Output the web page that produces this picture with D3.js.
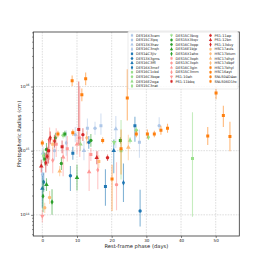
<!DOCTYPE html>
<html lang="en">
<head>
<meta charset="UTF-8">
<title>Photospheric radius vs phase</title>
<script src="https://d3js.org/d3.v7.min.js"></script>
<style>
  body { margin: 0; background: #fff; }
  text { font-family: "DejaVu Sans", sans-serif; fill: #222; }
</style>
</head>
<body>
<svg></svg>
<script>

// legend order (3 columns, filled column by column)
var sourceNames = [
    "DES16X3cem", "DES15C3lpq", "DES13X3hav", "DES16C3nqh",
    "DES14C3jiv", "DES13X3gms", "DES16C3ffl", "DES16X3mxf",
    "DES16C1cbd", "DES16C3bqw", "DES16E2oga", "DES15C3nat",
    "DES15C3bvg", "DES15X3kqv", "DES16C3opp", "DES16E1bjp",
    "DES16X1eho", "DES15C3oph", "DES13C3xph", "DES16C3gin",
    "DES15C3mrn", "PS1-10ah", "PS1-11bbq",
    "PS1-11ap", "PS1-12bn", "PS1-13duy",
    "HSC17auls", "HSC17btum", "HSC17dhyt", "HSC17dbpf",
    "HSC17bhyl", "HSC16ayt", "SNLS04D4ec", "SNLS06D1hc"
];

// [source, rest-frame phase (days), log10 radius (cm), err down (dex), err up (dex)]
var desObs = [
    ["DES16X3cem", 28.0, 15.13, 0.24, 0.20],
    ["DES16X3cem", 16.9, 15.39, 0.14, 0.19],
    ["DES16X3cem", 13.0, 15.35, 0.10, 0.15],
    ["DES15C3lpq", 33.7, 15.39, 0.06, 0.13],
    ["DES15C3lpq", 15.2, 15.35, 0.10, 0.10],
    ["DES15C3lpq", 3.5, 15.00, 0.15, 0.15],
    ["DES15C3lpq", 9.5, 15.25, 0.12, 0.12],
    ["DES13X3hav", 21.2, 15.34, 0.30, 0.20],
    ["DES13X3hav", 0.2, 14.96, 0.10, 0.10],
    ["DES13X3hav", 12.0, 15.00, 0.15, 0.15],
    ["DES16C3nqh", 6.9, 15.12, 0.20, 0.20],
    ["DES16C3nqh", 0.0, 14.63, 0.10, 0.10],
    ["DES14C3jiv", 26.7, 15.39, 0.25, 0.14],
    ["DES14C3jiv", 18.2, 14.44, 0.30, 0.27],
    ["DES14C3jiv", 8.8, 14.96, 0.10, 0.10],
    ["DES13X3gms", 28.2, 14.06, 0.24, 0.33],
    ["DES13X3gms", 8.1, 14.61, 0.24, 0.15],
    ["DES13X3gms", 13.4, 15.13, 0.10, 0.10],
    ["DES16C3ffl", 20.6, 15.00, 0.35, 0.17],
    ["DES16C3ffl", 0.0, 14.41, 0.30, 0.20],
    ["DES16X3mxf", 23.4, 14.50, 0.30, 0.30],
    ["DES16X3mxf", 0.4, 14.51, 0.15, 0.15],
    ["DES16C1cbd", 43.3, 14.88, 0.91, 0.72],
    ["DES16C1cbd", 22.7, 15.00, 0.45, 0.48],
    ["DES16C3bqw", 27.1, 15.32, 0.05, 0.05],
    ["DES16C3bqw", 6.0, 15.24, 0.05, 0.05],
    ["DES16E2oga", 25.3, 15.16, 0.05, 0.05],
    ["DES16E2oga", 11.0, 15.10, 0.10, 0.10],
    ["DES15C3nat", 30.6, 15.21, 0.04, 0.04],
    ["DES15C3nat", 0.3, 14.92, 0.10, 0.10],
    ["DES15C3bvg", 20.7, 15.13, 0.05, 0.05],
    ["DES15X3kqv", 22.5, 15.16, 0.05, 0.05],
    ["DES15X3kqv", 0.7, 14.87, 0.10, 0.10],
    ["DES15X3kqv", 6.5, 15.26, 0.05, 0.05],
    ["DES16C3opp", 14.0, 15.16, 0.10, 0.10],
    ["DES16C3opp", 1.2, 15.02, 0.10, 0.10],
    ["DES16C3opp", 5.5, 14.80, 0.10, 0.10],
    ["DES16C3opp", 3.8, 15.20, 0.08, 0.08],
    ["DES16E1bjp", 10.0, 14.58, 0.20, 0.20],
    ["DES16E1bjp", 1.2, 14.47, 0.10, 0.10],
    ["DES16X1eho", 0.2, 14.29, 0.25, 0.25],
    ["DES16X1eho", 2.8, 14.20, 0.20, 0.20],
    ["DES15C3oph", 14.0, 14.94, 0.10, 0.10],
    ["DES15C3oph", 7.2, 15.03, 0.20, 0.20],
    ["DES15C3oph", 4.0, 15.10, 0.20, 0.25],
    ["DES13C3xph", 21.4, 14.47, 0.40, 0.35],
    ["DES13C3xph", 10.8, 15.20, 0.30, 0.80],
    ["DES16C3gin", 13.5, 14.67, 0.30, 0.30],
    ["DES16C3gin", 10.0, 15.10, 0.15, 0.15],
    ["DES16C3gin", 6.0, 14.90, 0.30, 0.20],
    ["DES15C3mrn", 3.0, 14.85, 0.20, 0.20],
    ["DES15C3mrn", 16.0, 14.70, 0.30, 0.30]
];

var ps1Obs = [
    ["PS1-10ah", 0.0, 13.98, 0.10, 0.10],
    ["PS1-10ah", 2.1, 15.16, 0.30, 0.20],
    ["PS1-11bbq", 10.5, 15.33, 0.23, 0.75],
    ["PS1-11bbq", 5.7, 15.06, 0.10, 0.10],
    ["PS1-11bbq", 1.8, 15.00, 0.20, 0.20],
    ["PS1-11ap", 18.8, 14.89, 0.05, 0.05],
    ["PS1-11ap", 11.7, 15.25, 0.10, 0.10],
    ["PS1-12bn", 15.7, 14.89, 0.10, 0.10],
    ["PS1-12bn", -0.3, 14.76, 0.10, 0.10],
    ["PS1-13duy", 1.4, 14.91, 0.15, 0.15],
    ["PS1-13duy", 1.0, 14.81, 0.15, 0.15],
    ["PS1-13duy", 2.3, 15.20, 0.10, 0.10],
    ["PS1-13duy", 3.5, 15.15, 0.10, 0.10]
];

var hscObs = [
    ["HSC17auls", 16.3, 14.83, 0.10, 0.10],
    ["HSC17auls", 3.0, 15.10, 0.08, 0.08],
    ["HSC17btum", 0.7, 14.11, 0.08, 0.08],
    ["HSC17btum", 2.1, 14.27, 0.10, 0.10],
    ["HSC17dhyt", 5.0, 14.68, 0.08, 0.08],
    ["HSC17dhyt", 24.8, 15.05, 0.20, 0.20],
    ["HSC17dbpf", 12.8, 15.20, 0.10, 0.10],
    ["HSC17bhyl", 8.6, 16.09, 0.08, 0.08],
    ["HSC17bhyl", 12.5, 16.12, 0.10, 0.10],
    ["HSC17bhyl", 27.1, 15.26, 0.05, 0.05],
    ["HSC17bhyl", 30.3, 15.26, 0.07, 0.07],
    ["HSC17bhyl", 32.3, 15.26, 0.05, 0.05],
    ["HSC17bhyl", 34.2, 15.32, 0.07, 0.07],
    ["HSC17bhyl", 36.1, 15.35, 0.07, 0.07],
    ["HSC17bhyl", 0.0, 15.12, 0.05, 0.05],
    ["HSC17bhyl", 4.5, 15.26, 0.05, 0.05],
    ["HSC16ayt", 11.4, 15.87, 0.10, 0.10],
    ["HSC16ayt", 22.7, 15.03, 0.40, 0.30],
    ["HSC16ayt", 20.1, 14.56, 0.50, 0.22],
    ["HSC16ayt", 8.8, 15.28, 0.05, 0.05]
];

var snlsObs = [
    ["SNLS04D4ec", 24.5, 15.82, 0.35, 0.45],
    ["SNLS04D4ec", 17.4, 15.16, 0.05, 0.05],
    ["SNLS06D1hc", 50.1, 15.90, 0.10, 0.10],
    ["SNLS06D1hc", 52.2, 15.55, 0.18, 0.15],
    ["SNLS06D1hc", 54.1, 15.22, 0.23, 0.23],
    ["SNLS06D1hc", 47.7, 15.23, 0.14, 0.14]
];

var xTicks = [0, 10, 20, 30, 40, 50];
var yTickExps = [14, 15, 16];

// ---- style ----
var lb = "#aec7e8", bl = "#1f77b4", lg = "#98df8a", gr = "#2ca02c",
    pk = "#ff9896", rd = "#d62728", lo = "#ffbb78", or = "#ff7f0e";
var sourceColors = [lb, lb, lb, lb, bl, bl, bl, bl, lg, lg, lg, lg,
                    lg, gr, gr, gr, gr, pk, pk, pk, pk, pk, rd,
                    rd, rd, rd, lo, lo, lo, lo, or, or, or, or];
var sourceMarkers = ["s", "o", "^", "D", "s", "o", "^", "D", "s", "o", "^", "D",
                     "v", "s", "o", "^", "D", "s", "o", "^", "D", "v", "s",
                     "o", "^", "D", "s", "o", "^", "D", "s", "s", "s", "s"];

var width = 266, height = 266;
var svg = d3.select("svg").attr("width", width).attr("height", height);

var pLeft = 33.3, pRight = 239.3, pTop = 32, pBottom = 236;

var x = d3.scaleLinear().domain([-2.6, 56.8]).range([pLeft, pRight]);
var y = d3.scaleLog().domain([Math.pow(10, 13.67), Math.pow(10, 16.85)]).range([pBottom, pTop]);

// grid
var grid = svg.append("g");
grid.selectAll("line.gx").data(xTicks).enter().append("line")
    .attr("x1", function (d) { return x(d); }).attr("x2", function (d) { return x(d); })
    .attr("y1", pTop).attr("y2", pBottom);
grid.selectAll("line.gy").data(yTickExps).enter().append("line")
    .attr("x1", pLeft).attr("x2", pRight)
    .attr("y1", function (d) { return y(Math.pow(10, d)); })
    .attr("y2", function (d) { return y(Math.pow(10, d)); });
grid.selectAll("line").attr("stroke", "#c8c8c8").attr("stroke-width", 0.6)
    .attr("stroke-dasharray", "1.6,1.1");

// data
var allObs = desObs.concat(ps1Obs, hscObs, snlsObs);
allObs.sort(function (a, b) {
    return sourceNames.indexOf(a[0]) - sourceNames.indexOf(b[0]);
});

function symbolType(m) {
    if (m === "o") return d3.symbolCircle;
    if (m === "s") return d3.symbolSquare;
    if (m === "D") return d3.symbolDiamond;
    return d3.symbolTriangle;
}

svg.append("clipPath").attr("id", "plotclip").append("rect")
    .attr("x", pLeft).attr("y", pTop).attr("width", pRight - pLeft).attr("height", pBottom - pTop);

var plot = svg.append("g").attr("clip-path", "url(#plotclip)");

var pts = plot.selectAll("g.pt").data(allObs).enter().append("g");
pts.append("line")
    .attr("x1", function (d) { return x(d[1]); })
    .attr("x2", function (d) { return x(d[1]); })
    .attr("y1", function (d) { return y(Math.pow(10, d[2] - d[3])); })
    .attr("y2", function (d) { return y(Math.pow(10, d[2] + d[4])); })
    .attr("stroke", function (d) { return sourceColors[sourceNames.indexOf(d[0])]; })
    .attr("stroke-width", 1.1)
    .attr("stroke-opacity", 0.55);
pts.append("path")
    .attr("d", function (d) {
        var m = sourceMarkers[sourceNames.indexOf(d[0])];
        return d3.symbol().type(symbolType(m)).size(m === "D" ? 8 : 9)();
    })
    .attr("transform", function (d) {
        var m = sourceMarkers[sourceNames.indexOf(d[0])];
        return "translate(" + x(d[1]) + "," + y(Math.pow(10, d[2])) + ")" + (m === "v" ? " rotate(180)" : "");
    })
    .attr("fill", function (d) { return sourceColors[sourceNames.indexOf(d[0])]; });

// frame
svg.append("rect").attr("x", pLeft).attr("y", pTop)
    .attr("width", pRight - pLeft).attr("height", pBottom - pTop)
    .attr("fill", "none").attr("stroke", "#333").attr("stroke-width", 0.8);

// x axis
var xAxis = d3.axisBottom(x).tickValues(xTicks).tickSize(2).tickPadding(1)
    .tickFormat(d3.format("d"));
var gx = svg.append("g").attr("transform", "translate(0," + pBottom + ")").call(xAxis);
gx.select(".domain").remove();
gx.selectAll("line").attr("stroke", "#333").attr("stroke-width", 0.6);
gx.selectAll("text").attr("font-size", 4.1).attr("fill", "#222")
    .style("font-family", "DejaVu Sans, sans-serif");

// y axis (major + minor)
var minor = [];
for (var e = 13; e <= 16; e++) {
    for (var k = 2; k <= 9; k++) {
        var v = k * Math.pow(10, e);
        if (v >= y.domain()[0] && v <= y.domain()[1]) minor.push(v);
    }
}
var gyMinor = svg.append("g").attr("transform", "translate(" + pLeft + ",0)")
    .call(d3.axisLeft(y).tickValues(minor).tickSize(1.3).tickFormat(""));
gyMinor.select(".domain").remove();
gyMinor.selectAll("line").attr("stroke", "#333").attr("stroke-width", 0.5);

var gy = svg.append("g").attr("transform", "translate(" + pLeft + ",0)")
    .call(d3.axisLeft(y).tickValues(yTickExps.map(function (d) { return Math.pow(10, d); }))
        .tickSize(2.2).tickFormat(""));
gy.select(".domain").remove();
gy.selectAll("line").attr("stroke", "#333").attr("stroke-width", 0.6);

var yl = svg.append("g").selectAll("text").data(yTickExps).enter().append("text")
    .attr("x", 29.5)
    .attr("y", function (d) { return y(Math.pow(10, d)) + 1.5; })
    .attr("text-anchor", "end")
    .attr("font-size", 4.2);
yl.append("tspan").text("10");
yl.append("tspan").attr("dy", -1.7).attr("font-size", 3).text(function (d) { return d; });

// axis labels
svg.append("text").attr("x", (pLeft + pRight) / 2).attr("y", 248)
    .attr("text-anchor", "middle").attr("font-size", 5.2)
    .text("Rest-frame phase (days)");
svg.append("text")
    .attr("transform", "translate(21," + ((pTop + pBottom) / 2) + ") rotate(-90)")
    .attr("text-anchor", "middle").attr("font-size", 5.2)
    .text("Photospheric Radius (cm)");

// legend
var legX = 128, legY = 31, rowH = 4.6, rows = [12, 11, 11], colX = [132, 171.5, 210.5];
var leg = svg.append("g");
leg.append("rect").attr("x", legX).attr("y", legY).attr("width", 110).attr("height", 58)
    .attr("rx", 1.2).attr("fill", "#fff").attr("fill-opacity", 0.85)
    .attr("stroke", "#d5d5d5").attr("stroke-width", 0.5);

var legItems = sourceNames.map(function (name, i) {
    var c = i < rows[0] ? 0 : (i < rows[0] + rows[1] ? 1 : 2);
    var r = c === 0 ? i : (c === 1 ? i - rows[0] : i - rows[0] - rows[1]);
    return {name: name, i: i, cx: colX[c], cy: legY + 4.4 + r * rowH};
});
var li = leg.selectAll("g.li").data(legItems).enter().append("g");
li.append("line")
    .attr("x1", function (d) { return d.cx; }).attr("x2", function (d) { return d.cx; })
    .attr("y1", function (d) { return d.cy - 1.7; }).attr("y2", function (d) { return d.cy + 1.7; })
    .attr("stroke", function (d) { return sourceColors[d.i]; })
    .attr("stroke-opacity", 0.55).attr("stroke-width", 0.9);
li.append("path")
    .attr("d", function (d) { return d3.symbol().type(symbolType(sourceMarkers[d.i])).size(5)(); })
    .attr("transform", function (d) {
        return "translate(" + d.cx + "," + d.cy + ")" + (sourceMarkers[d.i] === "v" ? " rotate(180)" : "");
    })
    .attr("fill", function (d) { return sourceColors[d.i]; });
li.append("text")
    .attr("x", function (d) { return d.cx + 4; })
    .attr("y", function (d) { return d.cy + 1.2; })
    .attr("font-size", 3.5)
    .text(function (d) { return d.name; });

</script>
</body>
</html>
